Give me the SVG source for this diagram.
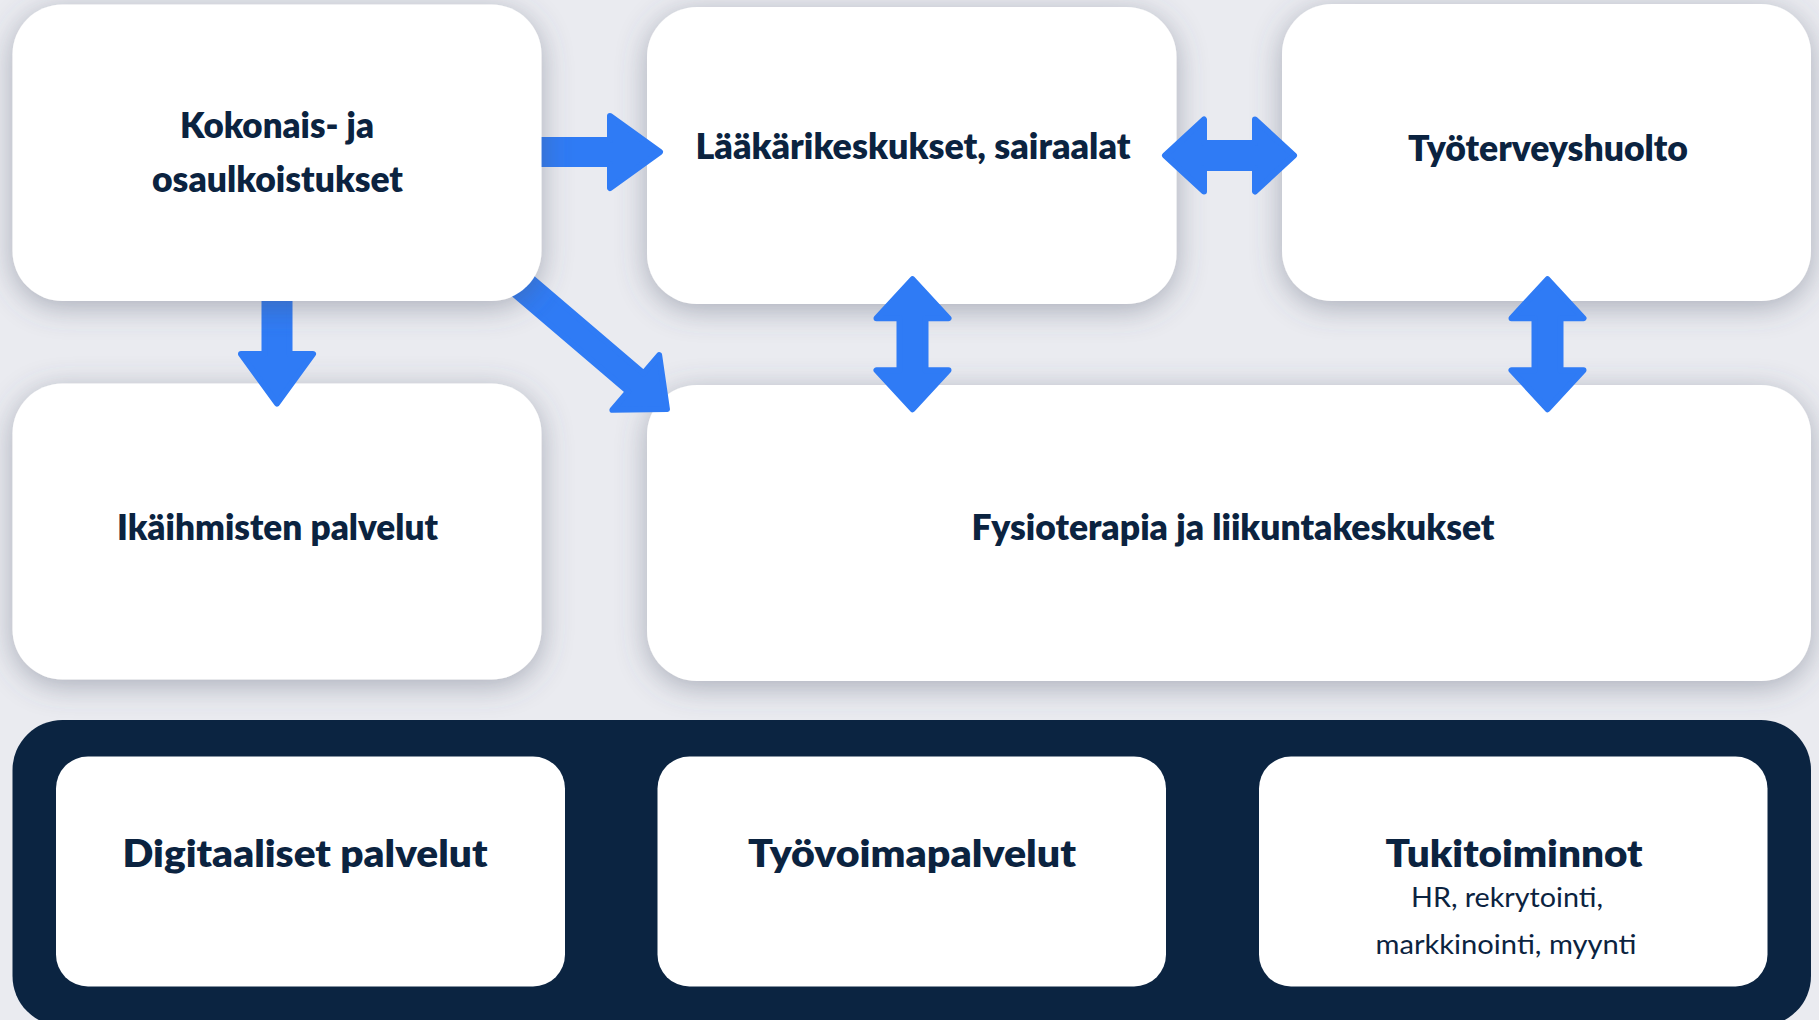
<svg xmlns="http://www.w3.org/2000/svg" width="1819" height="1020" viewBox="0 0 1819 1020">
<defs>
<style>
.box{fill:#FFFFFF;filter:url(#sh)}
.inner{fill:#FFFFFF}
.panel{fill:#0B2441}
.arrow{fill:#2F7BF5;stroke:#2F7BF5;stroke-width:6;stroke-linejoin:round}
.t{font-family:Lato,"Noto Sans",sans-serif;font-weight:800;fill:#0B2340;text-anchor:middle}
.t1{font-size:35px}
.t2{font-size:38px}
.sub{font-weight:400;font-size:27px}
</style>
<filter id="sh" x="-20%" y="-30%" width="140%" height="160%">
<feDropShadow dx="0" dy="6" stdDeviation="15" flood-color="#50546C" flood-opacity="0.42"/>
</filter>
<path id="vdouble" d="M0,-65 L36,-26 L13,-26 L13,26 L36,26 L0,65 L-36,26 L-13,26 L-13,-26 L-36,-26 Z"/>
</defs>
<rect x="0" y="0" width="1819" height="1020" fill="#EAEBF0"/>

<g id="node-laakarikeskukset">
<rect class="box" x="647" y="7" width="529.5" height="297" rx="50" ry="50"/>
<text class="t t1" x="913" y="159" textLength="435" lengthAdjust="spacingAndGlyphs">Lääkärikeskukset, sairaalat</text>
</g>

<g id="node-tyoterveyshuolto">
<rect class="box" x="1282" y="4" width="529" height="297" rx="50" ry="50"/>
<text class="t t1" x="1548" y="160.5" textLength="280" lengthAdjust="spacingAndGlyphs">Työterveyshuolto</text>
</g>

<g id="node-ikaihmisten">
<rect class="box" x="12.5" y="383.5" width="529" height="296" rx="50" ry="50"/>
<text class="t t1" x="277.5" y="540" textLength="321" lengthAdjust="spacingAndGlyphs">Ikäihmisten palvelut</text>
</g>

<g id="node-fysioterapia">
<rect class="box" x="647" y="385" width="1164" height="296" rx="50" ry="50"/>
<text class="t t1" x="1233" y="540" textLength="523" lengthAdjust="spacingAndGlyphs">Fysioterapia ja liikuntakeskukset</text>
</g>

<g id="connectors">
<path class="arrow" d="M530,140 L610,140 L610,116 L660,152 L610,188 L610,164 L530,164 Z"/>
<path class="arrow" d="M264.5,290 L264.5,354 L241,354 L277,403.5 L313,354 L289.5,354 L289.5,290 Z"/>
<path class="arrow" transform="translate(524,287) rotate(40.5)" d="M-40,-12 L147,-12 L147,-36 L188,0 L147,36 L147,12 L-40,12 Z"/>
<path class="arrow" d="M1165,155.5 L1204,119.5 L1204,143 L1255,143 L1255,119.5 L1294,155.5 L1255,191.5 L1255,168 L1204,168 L1204,191.5 Z"/>
<use href="#vdouble" class="arrow" transform="translate(912.5,344.2)"/>
<use href="#vdouble" class="arrow" transform="translate(1547.5,344.2)"/>
</g>

<g id="node-kokonais">
<rect class="box" x="12.5" y="4.5" width="529" height="296.5" rx="50" ry="50"/>
<text class="t t1" x="277" y="138" textLength="194" lengthAdjust="spacingAndGlyphs">Kokonais- ja</text>
<text class="t t1" x="277.5" y="192" textLength="251" lengthAdjust="spacingAndGlyphs">osaulkoistukset</text>
</g>

<g id="node-tukipalvelut-paneeli">
<rect class="panel" x="12.5" y="720" width="1798.5" height="306" rx="50" ry="50"/>
</g>

<g id="node-digitaaliset">
<rect class="inner" x="56" y="756.5" width="509" height="230" rx="32" ry="32"/>
<text class="t t2" x="305" y="866.5" textLength="365" lengthAdjust="spacingAndGlyphs">Digitaaliset palvelut</text>
</g>

<g id="node-tyovoimapalvelut">
<rect class="inner" x="657.5" y="756.5" width="508.5" height="230" rx="32" ry="32"/>
<text class="t t2" x="912" y="866.5" textLength="328" lengthAdjust="spacingAndGlyphs">Työvoimapalvelut</text>
</g>

<g id="node-tukitoiminnot">
<rect class="inner" x="1259" y="756.5" width="508.5" height="230" rx="32" ry="32"/>
<text class="t t2" x="1514" y="866.5" textLength="257" lengthAdjust="spacingAndGlyphs">Tukitoiminnot</text>
<text class="t sub" x="1507" y="907" textLength="192" lengthAdjust="spacingAndGlyphs">HR, rekrytointi,</text>
<text class="t sub" x="1506" y="954" textLength="261" lengthAdjust="spacingAndGlyphs">markkinointi, myynti</text>
</g>
</svg>
